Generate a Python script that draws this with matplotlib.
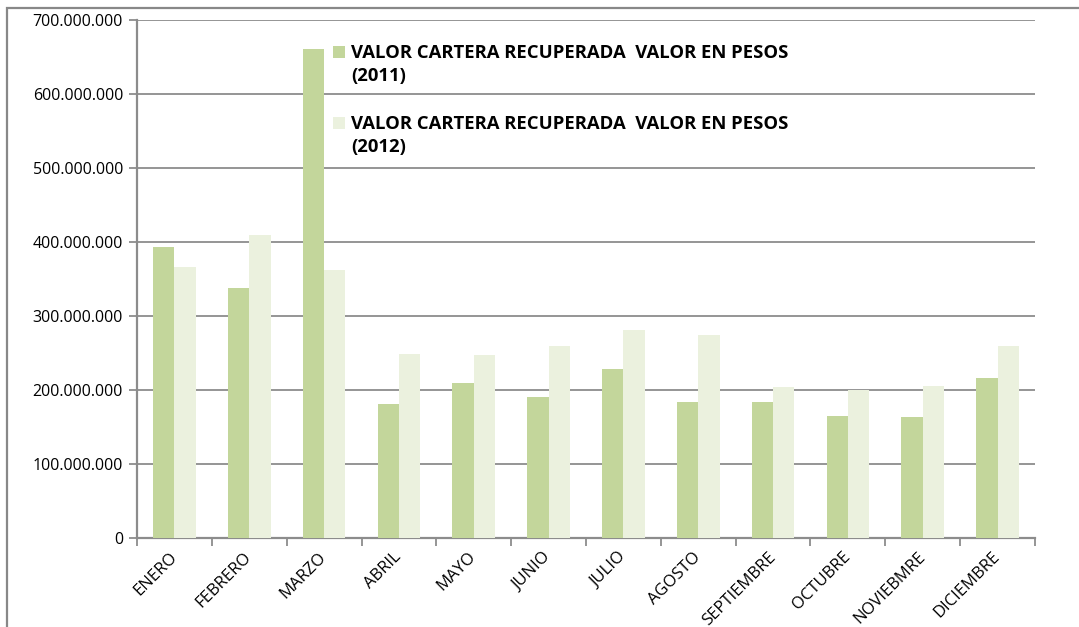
import matplotlib.pyplot as plt
import matplotlib.patches as mpatches
from matplotlib.container import BarContainer
from matplotlib.legend_handler import HandlerPatch, update_from_first_child
from matplotlib.ticker import FuncFormatter, MultipleLocator
import numpy as np

# Datos
meses = ['ENERO', 'FEBRERO', 'MARZO', 'ABRIL', 'MAYO', 'JUNIO', 'JULIO',
         'AGOSTO', 'SEPTIEMBRE', 'OCTUBRE', 'NOVIEBMRE', 'DICIEMBRE']
valor_2011 = [393e6, 338e6, 661e6, 181e6, 209e6, 191e6, 228e6,
              184e6, 184e6, 165e6, 164e6, 216e6]
valor_2012 = [366e6, 409e6, 362e6, 249e6, 247e6, 259e6, 281e6,
              274e6, 204e6, 200e6, 205e6, 259e6]
series = ['VALOR CARTERA RECUPERADA  VALOR EN PESOS\n(2011)',
          'VALOR CARTERA RECUPERADA  VALOR EN PESOS\n(2012)']

COLOR_2011 = '#C3D69B'
COLOR_2012 = '#EBF1DE'
GRID = '#8c8c8c'
FONT = 'Open Sans'

W, H = 1079, 627
fig = plt.figure(figsize=(W / 100, H / 100), dpi=100)
ax = fig.add_axes([137 / W, 1 - 538 / H, (1035 - 137) / W, (538 - 20) / H])

# marco exterior del grafico
fig.patches.append(mpatches.Rectangle((7 / W, -0.2), 1.2, 1 - 8 / H + 0.2,
                                      transform=fig.transFigure, fill=False,
                                      edgecolor='#888888', linewidth=1.6))

x = np.arange(len(meses))
ancho = 1 / 3.5
ax.bar(x - ancho / 2, valor_2011, ancho, color=COLOR_2011, label=series[0], zorder=3)
ax.bar(x + ancho / 2, valor_2012, ancho, color=COLOR_2012, label=series[1], zorder=3)

ax.set_xlim(-0.5, len(meses) - 0.5)
ax.set_ylim(0, 700e6)
ax.yaxis.set_major_locator(MultipleLocator(100e6))
ax.yaxis.set_major_formatter(FuncFormatter(lambda v, p: f'{int(v):,}'.replace(',', '.')))
ax.grid(axis='y', color=GRID, linewidth=1.3, zorder=0)

for s in ['top', 'right']:
    ax.spines[s].set_visible(False)
for s in ['left', 'bottom']:
    ax.spines[s].set_color(GRID)
    ax.spines[s].set_linewidth(1.6)

ax.tick_params(axis='y', length=6, width=1.3, color=GRID, labelsize=11.5, pad=4)
for t in ax.get_yticklabels():
    t.set_family(FONT)

ax.set_xticks(x)
ax.set_xticklabels(meses, rotation=45, ha='right', va='center',
                   rotation_mode='anchor', fontsize=12, family=FONT)
ax.tick_params(axis='x', which='major', length=0, pad=12)
ax.set_xticks(np.arange(len(meses) + 1) - 0.5, minor=True)
ax.tick_params(axis='x', which='minor', length=6, width=1.3, color=GRID)


# cuadrito de la leyenda alineado con la primera linea del texto
def cuadro_arriba(legend, orig_handle, xdescent, ydescent, width, height, fontsize):
    return mpatches.Rectangle((-xdescent, -ydescent + 0.705 * fontsize), width, height)


leg = ax.legend(loc='upper left', bbox_to_anchor=(0.2, 0.985), frameon=False,
                handlelength=0.65, handleheight=0.65, handletextpad=0.3,
                labelspacing=1.6, prop={'family': FONT, 'weight': 'bold', 'size': 13.3},
                handler_map={BarContainer: HandlerPatch(patch_func=cuadro_arriba,
                                                        update_func=update_from_first_child)})
for t in leg.get_texts():
    t.set_linespacing(1.35)

fig.savefig('out.png', dpi=100)
